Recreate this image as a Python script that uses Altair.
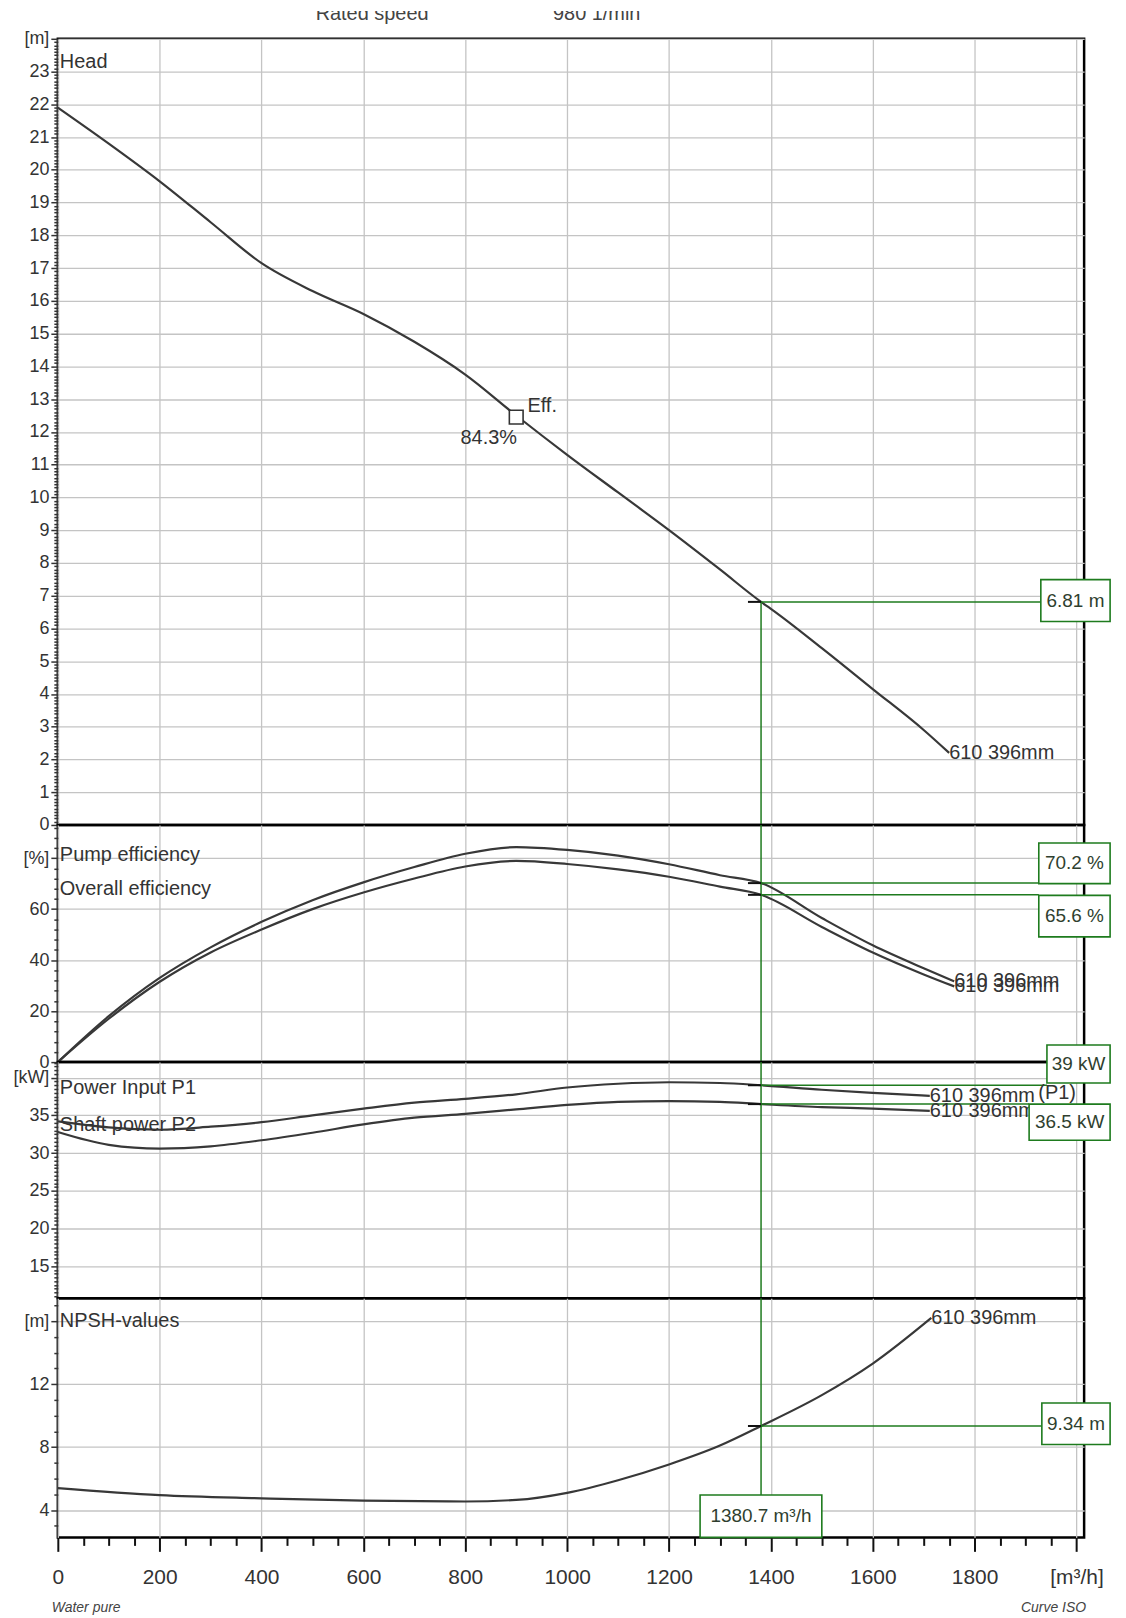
import altair as alt
import pandas as pd

# ---------------- data ----------------
head_flow = [0, 100, 200, 300, 400, 500, 600, 700, 800, 900, 1000, 1100, 1200, 1300, 1380.7, 1400, 1500, 1600, 1700, 1750]
head_m = [21.9, 20.8, 19.65, 18.4, 17.15, 16.3, 15.6, 14.75, 13.75, 12.5, 11.3, 10.15, 9.0, 7.8, 6.81, 6.6, 5.4, 4.15, 2.9, 2.2]

eff_flow = [0, 100, 200, 300, 400, 500, 600, 700, 800, 900, 1000, 1100, 1200, 1300, 1380.7, 1500, 1600, 1700, 1760]
pump_eff = [0, 18, 33, 45, 55, 63.5, 70.5, 76.5, 81.7, 84.3, 83.2, 81.0, 77.6, 73.3, 70.2, 56.5, 45.8, 36.8, 31.7]
overall_eff = [0, 17, 31.5, 43, 52, 60, 66.5, 72, 76.7, 78.9, 77.7, 75.6, 72.7, 68.8, 65.6, 53, 43, 34.4, 29.7]

pow_flow = [0, 100, 200, 300, 400, 500, 600, 700, 800, 900, 1000, 1100, 1200, 1300, 1380.7, 1500, 1600, 1712]
power_p1 = [34.2, 33.4, 33.1, 33.5, 34.1, 35.0, 35.9, 36.7, 37.2, 37.8, 38.7, 39.2, 39.4, 39.3, 39.0, 38.4, 38.0, 37.6]
power_p2 = [32.8, 31.1, 30.6, 30.9, 31.7, 32.7, 33.8, 34.7, 35.2, 35.8, 36.4, 36.8, 36.9, 36.8, 36.5, 36.1, 35.9, 35.6]

npsh_flow = [0, 200, 400, 600, 800, 900, 1000, 1100, 1200, 1300, 1380.7, 1500, 1600, 1715]
npsh_m = [5.4, 4.95, 4.75, 4.6, 4.55, 4.65, 5.1, 5.9, 6.9, 8.1, 9.34, 11.3, 13.3, 16.2]

op_flow = 1380.7
op_head = 6.81
op_pump_eff = 70.2
op_overall_eff = 65.6
op_p1 = 39.0
op_p2 = 36.5
op_npsh = 9.34
bep_flow = 900
bep_head = 12.45
bep_eff = 84.3
curve_name = "610 396mm"
rated_speed = ["Rated speed", "980 1/min"]

x_major = list(range(0, 2001, 200))
x_minor = list(range(0, 2001, 50))
head_ticks = [round(i * 0.1, 1) for i in range(241)]
eff_ticks = list(range(0, 93, 4))
power_ticks = [11 + 0.5 * i for i in range(63)]
npsh_ticks = list(range(3, 18))

# ---------------- style ----------------
W = 1030
FONT = "Liberation Sans, Arial, sans-serif"
CURVE = "#383838"
GREEN = "#1e7b1e"
GRID = "#c4c4c4"
TXT = "#333333"

XS = alt.Scale(domain=[0, 2015], nice=False, zero=False)


def x_grid():
    return alt.X("x:Q", scale=XS, title=None,
                 axis=alt.Axis(values=x_major, tickCount=len(x_major) + 1, labels=False, ticks=False,
                               domain=False, grid=True, gridColor=GRID, gridWidth=1.3))


def x_bottom():
    major = "(datum.value % 200 === 0)"
    return alt.X("x:Q", scale=XS, title=None,
                 axis=alt.Axis(values=x_minor, tickCount=len(x_minor) + 1, domain=False, grid=True,
                               gridColor=GRID, gridWidth=1.3,
                               gridOpacity={"condition": {"test": major, "value": 1}, "value": 0},
                               tickSize={"condition": {"test": major, "value": 14}, "value": 8},
                               tickWidth=2, tickColor="#111",
                               labelExpr="datum.value == 2000 ? '[m³/h]' : (datum.value % 200 === 0 ? format(datum.value, 'd') : '')",
                               labelFont=FONT, labelFontSize=21, labelPadding=15,
                               labelOverlap=False, labelFlush=False, labelColor=TXT))


def y_axis(values, major, special_val, special_lab):
    lab = f"datum.value == {special_val} ? '{special_lab}' : ({major} ? format(datum.value, 'd') : '')"
    return alt.Axis(values=values, tickCount=len(values) + 1, labelExpr=lab,
                    labelOverlap=False, labelFlush=False,
                    domain=False, grid=True, gridColor=GRID, gridWidth=1.3,
                    gridOpacity={"condition": {"test": major, "value": 1}, "value": 0},
                    tickSize={"condition": {"test": major, "value": 7}, "value": 4},
                    tickWidth=1.5, tickColor="#333", labelPadding=2,
                    labelFont=FONT, labelFontSize=18, labelColor=TXT)


def xq(field="x"):
    return alt.X(f"{field}:Q", scale=XS)


def yq(ys, field="y"):
    return alt.Y(f"{field}:Q", scale=ys)


def text_layer(df, ys, **kw):
    base = dict(font=FONT, fontSize=20, color=TXT, align="left", baseline="middle")
    base.update(kw)
    return alt.Chart(df).mark_text(**base).encode(x=xq(), y=yq(ys), text="t:N")


def rule_layer(df, ys, color=GREEN, width=1.5):
    enc = dict(x=xq(), y=yq(ys))
    if "x2" in df.columns:
        enc["x2"] = "x2:Q"
    if "y2" in df.columns:
        enc["y2"] = "y2:Q"
    return alt.Chart(df).mark_rule(color=color, strokeWidth=width).encode(**enc)


def box_layer(df, ys):
    rect = alt.Chart(df).mark_rect(fill="white", stroke=GREEN, strokeWidth=1.6).encode(
        x=xq(), x2="x2:Q", y=yq(ys), y2="y2:Q")
    lab = alt.Chart(df).transform_calculate(
        cx="(datum.x + datum.x2) / 2", cy="(datum.y + datum.y2) / 2").mark_text(
        font=FONT, fontSize=19, color="#2f3f2f", align="center", baseline="middle").encode(
        x=xq("cx"), y=yq(ys, "cy"), text="t:N")
    return rect + lab


def curve_layer(df, ys, yax, xenc):
    return alt.Chart(df).mark_line(color=CURVE, strokeWidth=2.2, interpolate="monotone").encode(
        x=xenc, y=alt.Y("y:Q", scale=ys, axis=yax, title=None), detail="s:N")


# ---------------- top (clipped "Rated speed" line) ----------------
top = alt.Chart(pd.DataFrame({"x": [617, 1058], "t": rated_speed})).mark_text(
    font=FONT, fontSize=20, color="#444", clip=True, baseline="middle").encode(
    x=alt.X("x:Q", scale=XS, axis=None), y=alt.value(3), text="t:N").properties(
    width=W, height=28, view=alt.ViewBackground(strokeOpacity=0))

# ---------------- head panel ----------------
ys_h = alt.Scale(domain=[0, 24], nice=False, zero=False)
head_df = pd.DataFrame({"x": head_flow, "y": head_m, "s": "head"})
head = alt.layer(
    curve_layer(head_df, ys_h,
                y_axis(head_ticks, "abs(datum.value - round(datum.value)) < 0.01", 24, "[m]"), x_grid()),
    rule_layer(pd.DataFrame({"x": [op_flow], "y": [0], "y2": [op_head]}), ys_h),
    rule_layer(pd.DataFrame({"x": [op_flow], "x2": [1930], "y": [op_head]}), ys_h),
    rule_layer(pd.DataFrame({"x": [1355], "x2": [op_flow], "y": [op_head]}), ys_h, color="#111", width=2),
    text_layer(pd.DataFrame({"x": [4], "y": [23.3], "t": ["Head"]}), ys_h),
    text_layer(pd.DataFrame({"x": [head_flow[-1]], "y": [head_m[-1]], "t": [curve_name]}), ys_h),
    alt.Chart(pd.DataFrame({"x": [bep_flow], "y": [bep_head]})).mark_square(
        size=190, color="white", stroke="#333", strokeWidth=1.6, opacity=1).encode(
        x=xq(), y=yq(ys_h)),
    text_layer(pd.DataFrame({"x": [922], "y": [12.8], "t": ["Eff."]}), ys_h),
    text_layer(pd.DataFrame({"x": [846], "y": [11.8], "t": [f"{bep_eff}%"]}), ys_h, align="center"),
    box_layer(pd.DataFrame({"x": [1930], "x2": [2066], "y": [6.21], "y2": [7.49],
                            "t": [f"{op_head} m"]}), ys_h),
).properties(width=W, height=789)

# ---------------- efficiency panel ----------------
ys_e = alt.Scale(domain=[0, 93], nice=False, zero=False)
eff_df = pd.concat([
    pd.DataFrame({"x": eff_flow, "y": pump_eff, "s": "pump"}),
    pd.DataFrame({"x": eff_flow, "y": overall_eff, "s": "overall"}),
])
eff = alt.layer(
    curve_layer(eff_df, ys_e, y_axis(eff_ticks, "datum.value % 20 === 0", 80, "[%]"), x_grid()),
    rule_layer(pd.DataFrame({"x": [op_flow], "y": [0], "y2": [93]}), ys_e),
    rule_layer(pd.DataFrame({"x": [op_flow, op_flow], "x2": [1926, 1926],
                             "y": [op_pump_eff, op_overall_eff]}), ys_e),
    rule_layer(pd.DataFrame({"x": [1355, 1355], "x2": [op_flow, op_flow],
                             "y": [op_pump_eff, op_overall_eff]}), ys_e, color="#111", width=2),
    text_layer(pd.DataFrame({"x": [4, 4], "y": [81.4, 68],
                             "t": ["Pump efficiency", "Overall efficiency"]}), ys_e),
    text_layer(pd.DataFrame({"x": [eff_flow[-1], eff_flow[-1]], "y": [pump_eff[-1], overall_eff[-1]],
                             "t": [curve_name, curve_name]}), ys_e),
    box_layer(pd.DataFrame({"x": [1926, 1926], "x2": [2066, 2066], "y": [70.0, 49.1],
                            "y2": [85.9, 65.4],
                            "t": [f"{op_pump_eff} %", f"{op_overall_eff} %"]}), ys_e),
).properties(width=W, height=238)

# ---------------- power panel ----------------
ys_p = alt.Scale(domain=[10.74, 42.07], nice=False, zero=False)
pow_df = pd.concat([
    pd.DataFrame({"x": pow_flow, "y": power_p1, "s": "p1"}),
    pd.DataFrame({"x": pow_flow, "y": power_p2, "s": "p2"}),
])
power = alt.layer(
    curve_layer(pow_df, ys_p, y_axis(power_ticks, "datum.value % 5 === 0", 40, "[kW]"), x_grid()),
    rule_layer(pd.DataFrame({"x": [op_flow], "y": [10.74], "y2": [42.07]}), ys_p),
    rule_layer(pd.DataFrame({"x": [op_flow, op_flow], "x2": [1942, 1907],
                             "y": [op_p1, op_p2]}), ys_p),
    rule_layer(pd.DataFrame({"x": [1355, 1355], "x2": [op_flow, op_flow],
                             "y": [op_p1, op_p2]}), ys_p, color="#111", width=2),
    text_layer(pd.DataFrame({"x": [4, 4], "y": [38.6, 33.7],
                             "t": ["Power Input P1", "Shaft power P2"]}), ys_p),
    text_layer(pd.DataFrame({"x": [pow_flow[-1], pow_flow[-1], 1925], "y": [power_p1[-1], power_p2[-1], 38.0],
                             "t": [curve_name, curve_name, "(P1)"]}), ys_p),
    box_layer(pd.DataFrame({"x": [1942, 1907], "x2": [2066, 2066], "y": [39.3, 31.7],
                            "y2": [44.35, 36.5],
                            "t": [f"{op_p1:g} kW", f"{op_p2} kW"]}), ys_p),
).properties(width=W, height=237)

# ---------------- NPSH panel ----------------
ys_n = alt.Scale(domain=[2.27, 17.45], nice=False, zero=False)
npsh_df = pd.DataFrame({"x": npsh_flow, "y": npsh_m, "s": "npsh"})
npsh = alt.layer(
    curve_layer(npsh_df, ys_n, y_axis(npsh_ticks, "datum.value % 4 === 0", 16, "[m]"), x_bottom()),
    rule_layer(pd.DataFrame({"x": [op_flow], "y": [4.96], "y2": [17.45]}), ys_n),
    rule_layer(pd.DataFrame({"x": [op_flow], "x2": [1932], "y": [op_npsh]}), ys_n),
    rule_layer(pd.DataFrame({"x": [1355], "x2": [op_flow], "y": [op_npsh]}), ys_n, color="#111", width=2),
    text_layer(pd.DataFrame({"x": [4], "y": [16.0], "t": ["NPSH-values"]}), ys_n),
    text_layer(pd.DataFrame({"x": [npsh_flow[-1]], "y": [npsh_m[-1]], "t": [curve_name]}), ys_n),
    box_layer(pd.DataFrame({"x": [1932, 1261], "x2": [2066, 1500], "y": [8.17, 2.27],
                            "y2": [10.8, 4.96],
                            "t": [f"{op_npsh} m", f"{op_flow} m³/h"]}), ys_n),
    alt.Chart(pd.DataFrame({"t": ["Water pure"]})).mark_text(
        font=FONT, fontSize=14, fontStyle="italic", color="#444", align="left", baseline="middle").encode(
        x=alt.value(-6), y=alt.value(311), text="t:N"),
    alt.Chart(pd.DataFrame({"t": ["Curve ISO"]})).mark_text(
        font=FONT, fontSize=14, fontStyle="italic", color="#444", align="right", baseline="middle").encode(
        x=alt.value(1032), y=alt.value(311), text="t:N"),
).properties(width=W, height=240)

chart = alt.vconcat(top, head, eff, power, npsh, spacing=0, bounds="flush").properties(
    padding={"left": 3, "top": 0, "right": 5, "bottom": 3}).configure_view(
    stroke="black", strokeWidth=2.5).configure_axis(labelColor=TXT)

chart.save("out.html", embed_options={"renderer": "svg", "actions": False})
